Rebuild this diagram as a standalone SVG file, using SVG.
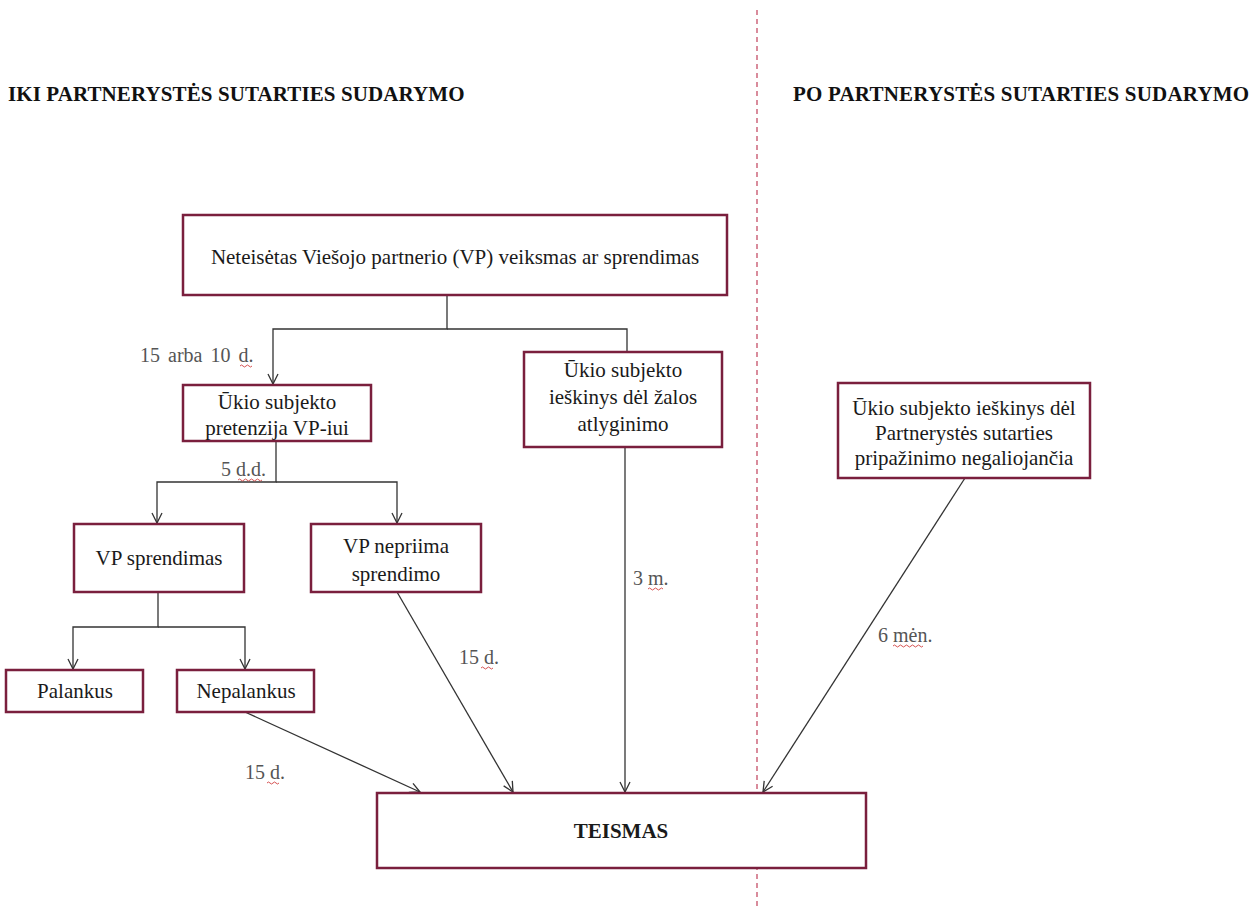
<svg xmlns="http://www.w3.org/2000/svg" width="1259" height="907" viewBox="0 0 1259 907">
<defs>
<style>
.box{fill:#fff;stroke:#7a1f3d;stroke-width:2.5}
.t{font-family:"Liberation Serif","Times New Roman",serif;font-size:21px;fill:#1a1a1a;text-anchor:middle}
.h{font-family:"Liberation Serif","Times New Roman",serif;font-size:21px;font-weight:bold;fill:#111}
.lbl{font-family:"Liberation Serif","Times New Roman",serif;font-size:20px;fill:#555}
.c{fill:none;stroke:#333;stroke-width:1.3}
.w{fill:none;stroke:#d04040;stroke-width:0.9}
</style>
<marker id="a" viewBox="0 0 12 12" refX="11" refY="6" markerWidth="12" markerHeight="12" markerUnits="userSpaceOnUse" orient="auto">
<path d="M1,1 L11,6 L1,11" fill="none" stroke="#333" stroke-width="1.3"/>
</marker>
</defs>
<rect width="1259" height="907" fill="#fff"/>
<line x1="757" y1="10" x2="757" y2="907" stroke="#c0405a" stroke-width="1.2" stroke-dasharray="5,4"/>
<text class="h" x="8" y="101" letter-spacing="0.1">IKI PARTNERYSTĖS SUTARTIES SUDARYMO</text>
<text class="h" x="793" y="101" letter-spacing="0.2">PO PARTNERYSTĖS SUTARTIES SUDARYMO</text>

<g id="connectors">
<path class="c" d="M447,295 V329 H273 V384" marker-end="url(#a)"/>
<path class="c" d="M447,329 H627 V352"/>
<path class="c" d="M276,441 V482 H157 V523" marker-end="url(#a)"/>
<path class="c" d="M276,482 H397 V523" marker-end="url(#a)"/>
<path class="c" d="M158,592 V627 H73 V669" marker-end="url(#a)"/>
<path class="c" d="M158,627 H245 V669" marker-end="url(#a)"/>
<path class="c" d="M245,712 L420,792" marker-end="url(#a)"/>
<path class="c" d="M397,592 L513,792" marker-end="url(#a)"/>
<path class="c" d="M625,447 V792" marker-end="url(#a)"/>
<path class="c" d="M965,478 L763,792" marker-end="url(#a)"/>
<text class="lbl" x="140" y="362" word-spacing="3">15 arba 10 d.</text>
<text class="lbl" x="221" y="476">5 d.d.</text>
<text class="lbl" x="245" y="779">15 d.</text>
<text class="lbl" x="459" y="664">15 d.</text>
<text class="lbl" x="633" y="585">3 m.</text>
<text class="lbl" x="878" y="642">6 mėn.</text>
<g class="w">
<path d="M240,366 q1.5,-2 3,0 t3,0 t3,0 t3,0"/>
<path d="M238,480 q1.5,-2 3,0 t3,0 t3,0 t3,0 t3,0 t3,0 t3,0 t3,0"/>
<path d="M267,783 q1.5,-2 3,0 t3,0 t3,0 t3,0"/>
<path d="M481,668 q1.5,-2 3,0 t3,0 t3,0 t3,0"/>
<path d="M648,589 q1.5,-2 3,0 t3,0 t3,0 t3,0 t3,0"/>
<path d="M893,646 q1.5,-2 3,0 t3,0 t3,0 t3,0 t3,0 t3,0 t3,0 t3,0 t3,0 t3,0"/>
<path d="M343,439 q1.5,-2 3,0 t3,0 t3,0 t3,0 t3,0 t3,0"/>
</g>
</g>

<g id="n1"><rect class="box" x="183" y="215" width="544" height="80"/>
<text class="t" x="455" y="264">Neteisėtas Viešojo partnerio (VP) veiksmas ar sprendimas</text></g>
<g id="n2"><rect class="box" x="183" y="385" width="188" height="56"/>
<text class="t" x="277" y="409">Ūkio subjekto</text><text class="t" x="277" y="435">pretenzija VP-iui</text></g>
<g id="n3"><rect class="box" x="524" y="352" width="198" height="95"/>
<text class="t" x="623" y="377">Ūkio subjekto</text><text class="t" x="623" y="404">ieškinys dėl žalos</text><text class="t" x="623" y="431">atlyginimo</text></g>
<g id="n4"><rect class="box" x="74" y="524" width="170" height="68"/>
<text class="t" x="159" y="565">VP sprendimas</text></g>
<g id="n5"><rect class="box" x="311" y="524" width="170" height="68"/>
<text class="t" x="396" y="553">VP nepriima</text><text class="t" x="396" y="581">sprendimo</text></g>
<g id="n6"><rect class="box" x="6" y="670" width="137" height="42"/>
<text class="t" x="75" y="698">Palankus</text></g>
<g id="n7"><rect class="box" x="177" y="670" width="137" height="42"/>
<text class="t" x="246" y="698">Nepalankus</text></g>
<g id="n8"><rect class="box" x="838" y="383" width="252" height="95"/>
<text class="t" x="964" y="415">Ūkio subjekto ieškinys dėl</text><text class="t" x="964" y="440">Partnerystės sutarties</text><text class="t" x="964" y="465">pripažinimo negaliojančia</text></g>
<g id="n9"><rect class="box" x="377" y="793" width="489" height="75"/>
<text class="t" x="621" y="838" font-weight="bold" font-size="20">TEISMAS</text></g>
</svg>
